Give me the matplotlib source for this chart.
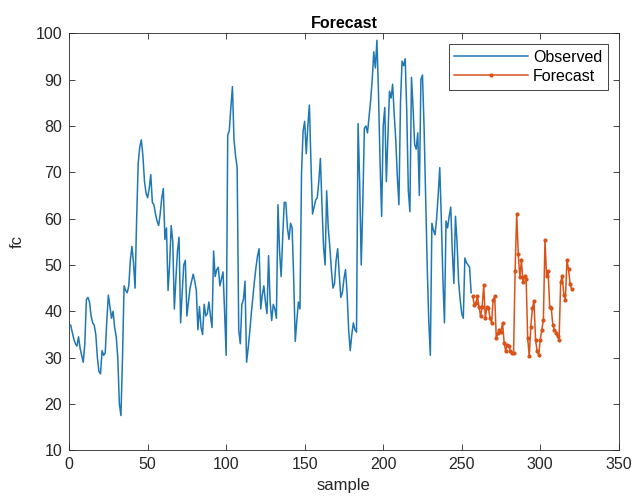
import numpy as np
import matplotlib
matplotlib.use('Agg')
import matplotlib.pyplot as plt

plt.rcParams['font.family'] = ['Liberation Sans', 'DejaVu Sans']

# observed values, samples 1..256
observed = [
    37, 35.5, 34, 33, 32.5, 34.5, 32, 30.5, 29, 33,
    42.5, 43, 42, 39, 37.5, 37, 35, 30, 27, 26.5,
    31.5, 30.5, 31, 38, 43.5, 41, 38.5, 40, 36.5, 34.5,
    30, 20, 17.5, 30, 45.5, 44.5, 44, 45.5, 51, 54,
    50.5, 45, 60, 72, 75.5, 77, 73.5, 68, 65.5, 64.5,
    66.5, 69.5, 63.5, 63, 61, 59.5, 58.5, 61, 64.5, 66.5,
    55.5, 58, 44.5, 50, 58.5, 55, 40.5, 47, 53, 56,
    37.5, 44, 50, 51, 39, 42, 45, 46.5, 48, 46.5,
    44.5, 36, 41, 36.5, 35, 41.5, 39, 39.5, 42, 39,
    36.5, 53, 47.5, 49, 49.5, 45.5, 47, 48.5, 40, 30.5,
    78, 79, 84, 88.5, 77, 73.5, 71, 36, 33, 41.5,
    42.5, 46.5, 29, 32, 35.5, 39.5, 43, 46.5, 49.5, 52,
    53.5, 40.5, 43.5, 45.5, 42, 39.5, 52, 42, 38, 41.5,
    40.5, 38.5, 63, 53, 47.5, 56, 63.5, 63.5, 58, 55.5,
    59, 58, 47, 33.5, 38, 42, 40.5, 70, 79, 81,
    74, 80, 84.5, 72, 61, 62.5, 64, 64.5, 68, 73,
    63, 54, 50, 66, 58, 54, 49, 45, 46, 51,
    53.5, 48, 43, 44, 47, 49, 44, 36, 31.5, 35,
    37.5, 36, 35.5, 80.5, 68, 50, 63, 79.5, 80, 78.5,
    82, 85.5, 90, 96, 92.5, 98.5, 87, 72, 60.5, 80,
    84, 68, 78, 87.5, 86, 89, 82.5, 77, 69, 63,
    85, 94, 93, 94.5, 83, 66, 61.5, 90.5, 84, 76,
    75, 78.5, 65, 90, 91, 80, 65, 50, 38, 30.5,
    59, 57.5, 56.5, 60, 65, 71, 60, 47, 37.5, 59.5,
    58, 60.5, 62.5, 53, 46, 60.5, 55, 46.5, 42.5, 39.5,
    38.5, 51.5, 50.5, 50, 49.5, 44,
]

# forecast values, following the observed samples
forecast = [
    43.2, 41.4, 41.8, 43.2, 41.0, 38.9, 41.0, 45.6, 38.5, 41.0,
    40.7, 38.5, 37.5, 42.5, 43.2, 34.2, 35.3, 36.0, 35.6, 37.5,
    33.2, 31.4, 32.8, 32.5, 31.4, 31.0, 31.0, 48.8, 61.0, 52.4,
    47.3, 51.0, 46.3, 47.7, 47.0, 34.2, 30.3, 36.7, 40.7, 42.2,
    33.9, 31.4, 30.6, 33.9, 36.0, 38.2, 55.4, 47.7, 48.8, 41.0,
    40.7, 37.1, 36.0, 35.3, 34.6, 33.9, 46.3, 47.7, 43.6, 42.5,
    51.0, 49.1, 45.9, 44.8,
]

n_obs = len(observed)
x_obs = np.arange(1, n_obs + 1)
x_fc = np.arange(n_obs + 1, n_obs + 1 + len(forecast))

fig = plt.figure(figsize=(6.34, 4.97), dpi=100)
ax = fig.add_axes([0.109, 0.094, 0.867, 0.839])

ax.plot(x_obs, observed, color='#1f77b4', lw=1.1, label='Observed')
ax.plot(x_fc, forecast, color='#D95319', lw=1.1, marker='.', markersize=4,
        label='Forecast')

ax.set_xlim(0, 350)
ax.set_ylim(10, 100)
ax.set_xticks(np.arange(0, 351, 50))
ax.set_yticks(np.arange(10, 101, 10))

ax.tick_params(direction='in', top=True, right=True, length=4, width=0.6,
               labelsize=11.5, colors='#262626', pad=5)
for sp in ax.spines.values():
    sp.set_color('#262626')
    sp.set_linewidth(0.6)

ax.set_title('Forecast', fontsize=11.5, fontweight='bold', pad=4)
ax.set_xlabel('sample', fontsize=12, color='#262626', labelpad=4)
ax.set_ylabel('fc', fontsize=12, color='#262626', labelpad=8)

leg = ax.legend(loc='upper right', fontsize=11.5, frameon=True, fancybox=False,
                framealpha=1, edgecolor='#262626', borderpad=0.35,
                handlelength=4.6, handletextpad=0.3, labelspacing=0.25,
                borderaxespad=0.7)
leg.get_frame().set_linewidth(0.6)

fig.savefig('out.png', dpi=100)
